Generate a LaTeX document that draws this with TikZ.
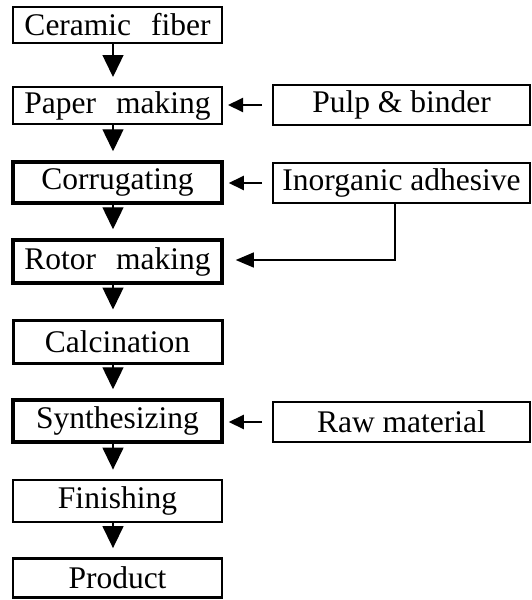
\documentclass[tikz,border=0pt]{standalone}
\usepackage{fontspec}
\setmainfont{Liberation Serif}
\usetikzlibrary{arrows.meta}
\begin{document}
\begin{tikzpicture}[x=1pt,y=-1pt,
  every node/.style={font=\fontsize{31.5}{32}\selectfont, inner sep=0pt},
  mainbox/.style={draw, line width=2.8pt, minimum width=209pt, anchor=center},
  sidebox/.style={draw, line width=2pt, minimum width=257pt, minimum height=40pt, anchor=center},
  down/.style={line width=1.4pt, -{Triangle[length=22pt,width=21pt]}, shorten >=9pt},
  feed/.style={line width=2pt, -{Triangle[length=15pt,width=14pt]}, shorten <=10pt, shorten >=5pt},
  feedthin/.style={line width=1.2pt, -{Triangle[length=18pt,width=15pt]}, shorten >=12pt}
]
\useasboundingbox (0,0) rectangle (531,600);
\newcommand{\wsp}{\hspace{0.63em}}
\node[mainbox, line width=2pt, minimum height=36pt] (cf) at (117.5,25) {Ceramic\wsp fiber};
\node[mainbox, line width=2pt, minimum height=37pt] (pm) at (117.5,105.5) {Paper\wsp making};
\node[mainbox, line width=3.5pt, minimum height=41pt] (co) at (117.5,182.5) {Corrugating};
\node[mainbox, line width=3.5pt, minimum height=43pt] (rm) at (117.5,261.5) {Rotor\wsp making};
\node[mainbox, line width=3pt, minimum height=43pt] (ca) at (117.5,341.5) {Calcination};
\node[mainbox, line width=3.5pt, minimum height=42pt] (sy) at (117.5,421) {Synthesizing};
\node[mainbox, line width=2.8pt, minimum height=42pt] (fi) at (117.5,501) {Finishing};
\node[mainbox, line width=2.8pt, minimum height=39pt] (pr) at (117.5,578) {Product};

\node[sidebox] (pb) at (401.5,105) {Pulp \& binder};
\node[sidebox] (ia) at (401.5,183) {Inorganic adhesive};
\node[sidebox] (rw) at (401.5,422) {Raw material};

\draw[down] (cf.south -| 113,0) -- (pm.north -| 113,0);
\draw[down] (pm.south -| 113,0) -- (co.north -| 113,0);
\draw[down] (co.south -| 113,0) -- (rm.north -| 113,0);
\draw[down] (rm.south -| 113,0) -- (ca.north -| 113,0);
\draw[down] (ca.south -| 113,0) -- (sy.north -| 113,0);
\draw[down] (sy.south -| 113,0) -- (fi.north -| 113,0);
\draw[down] (fi.south -| 113,0) -- (pr.north -| 113,0);

\draw[feed] (pb.west) -- (pm.east |- pb.west);
\draw[feed] (ia.west) -- (co.east |- ia.west);
\draw[feed] (rw.west) -- (sy.east |- rw.west);

\coordinate (bend) at (395,260);
\draw[feedthin] (ia.south -| bend) -- (bend) -- (rm.east |- bend);
\end{tikzpicture}
\end{document}
